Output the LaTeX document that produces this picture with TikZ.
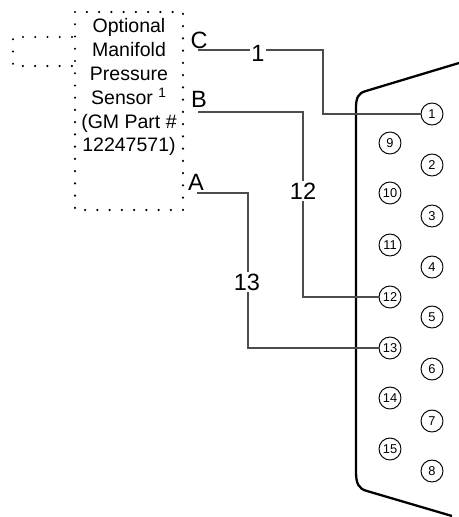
\documentclass[tikz,border=0pt]{standalone}
\usepackage{fontspec}
\setmainfont{Liberation Sans}
\usepackage{tikz}
\tikzset{
  pin/.style={draw,circle,minimum size=0.44cm,inner sep=0pt,line width=0.55pt,font=\fontsize{7.3}{8}\selectfont},
  wire/.style={line width=0.6pt,color=black!70},
  dots/.style={line width=1.4pt,line cap=round,dash pattern=on 0pt off 0.245cm},
  wirelabel/.style={fill=white,inner sep=1pt,font=\fontsize{13.4}{15}\selectfont},
  letter/.style={inner sep=0pt,font=\fontsize{13.4}{15}\selectfont}
}
\begin{document}
\begin{tikzpicture}[x=0.02cm,y=-0.02cm]
\useasboundingbox (0,0) rectangle (459,517);
% sensor outline
\draw [dots] (75,12) rectangle (183,210);
\draw [dots] (72,37)--(13,37)--(13,66)--(72,66);
\node (sensor) [anchor=north,align=center,inner sep=0pt,font=\fontsize{11.1}{13.6}\selectfont] at (129,18)
  {Optional\\Manifold\\Pressure\\Sensor \textsuperscript{1}\\(GM Part \#\\12247571)};
% shell of the connector
\draw [line width=1.3pt] (459,63)--(366,91) .. controls (358,93) and (356,98) .. (356,108)
  --(356,472) .. controls (356,484) and (359,489) .. (367,491)--(452,516);
% pins
\foreach \n/\x/\y in {1/432/114,2/432/165,3/432/216,4/432/267,5/432/317,6/432/369,7/432/421,8/432/471,
  9/390/143,10/390/193,11/390/245,12/390/297,13/390/348,14/390/398,15/390/449}
  \node (pin\n) [pin] at (\x,\y) {\n};
% letters at the sensor
\node (letterC) [letter] at (199,40) {C};
\node (letterB) [letter] at (199,99) {B};
\node (letterA) [letter] at (196,182) {A};
\coordinate (startC) at (198,50);
\coordinate (startB) at (198,112);
\coordinate (startA) at (197,193);
% wires
\draw [wire] (startC)--(323,50)--(323,114)--(pin1.west);
\draw [wire] (startB)--(303,112)--(303,297)--(pin12.west);
\draw [wire] (startA)--(248,193)--(248,348)--(pin13.west);
\node (wire1) [wirelabel] at (258,53) {1};
\node (wire12) [wirelabel] at (303,191) {12};
\node (wire13) [wirelabel] at (247,282) {13};
\end{tikzpicture}
\end{document}
